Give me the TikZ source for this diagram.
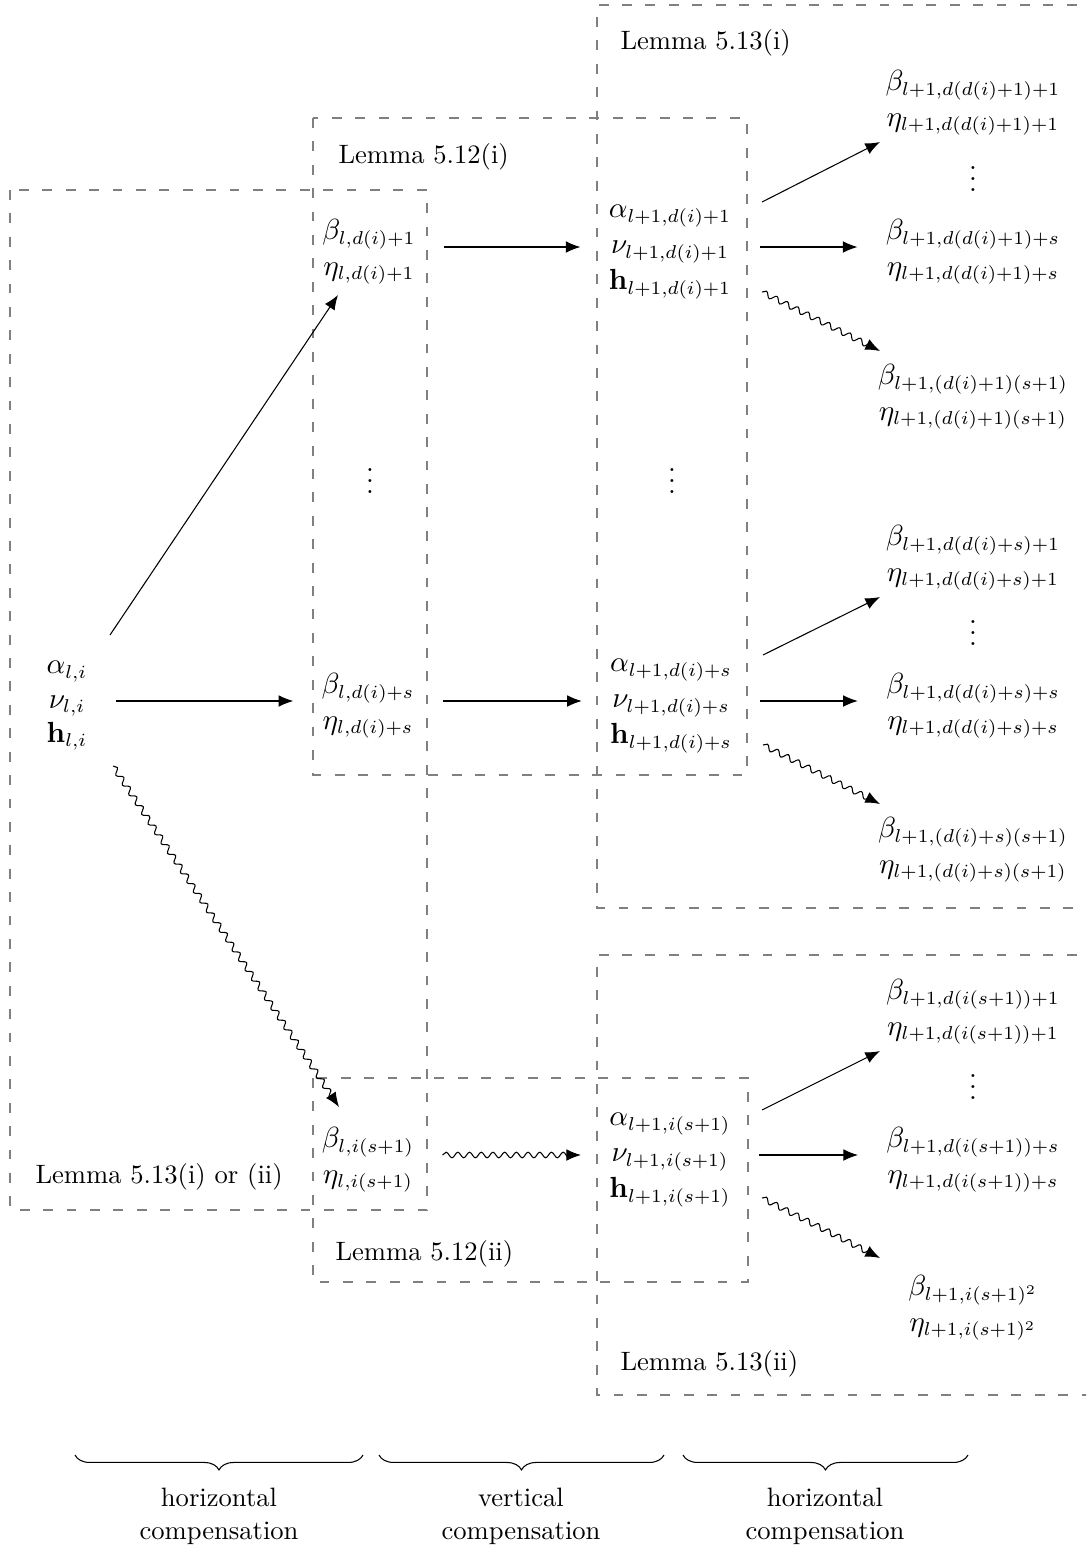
\documentclass[tikz,border=0pt]{standalone}
\usetikzlibrary{arrows.meta,decorations.pathmorphing,decorations.pathreplacing,calc}
\begin{document}
\begin{tikzpicture}[x=0.376pt,y=-0.376pt,
  lbox/.style={draw=black!50, line width=0.4pt, dash pattern=on 3.7pt off 5.1pt},
  stk/.style={align=center, inner xsep=10.5pt, inner ysep=0pt, font=\fontsize{10.55pt}{13.5pt}\selectfont},
  stka/.style={stk, font=\fontsize{10.55pt}{12.9pt}\selectfont},
  vdotsnode/.style={anchor=base, inner sep=0pt, font=\fontsize{10.55pt}{13pt}\selectfont},
  lemlab/.style={anchor=base west, inner sep=0pt},
  arr/.style={-{Latex[length=5.5pt,width=4.4pt]}, line width=0.4pt},
  wav/.style={arr, decorate, decoration={snake, amplitude=1.05pt, segment length=4.4pt, post length=2pt}},
  brc/.style={decorate, decoration={brace, mirror, amplitude=5.6pt}, line width=0.4pt},
  captext/.style={align=center, anchor=north, inner sep=0pt, font=\fontsize{10pt}{12.6pt}\selectfont}
]
\useasboundingbox (0,0) rectangle (1086,1549);
\clip (0,0) rectangle (1086,1549);

% dashed lemma boxes
\draw[lbox] (10,190) rectangle (427,1210);
\draw[lbox] (313,118) rectangle (747,775);
\draw[lbox] (1100,5) -- (597,5) -- (597,908) -- (1100,908);
\draw[lbox] (1100,955) -- (597,955) -- (597,1395) -- (1100,1395);
\draw[lbox] (313,1078) rectangle (748,1282);

% lemma labels
\node[lemlab] (L1) at (35,1183) {Lemma 5.13(i) or (ii)};
\node[lemlab] (L2) at (338,163) {Lemma 5.12(i)};
\node[lemlab] (L3) at (620,49) {Lemma 5.13(i)};
\node[lemlab] (L4) at (335,1260) {Lemma 5.12(ii)};
\node[lemlab] (L5) at (620,1370) {Lemma 5.13(ii)};

% first column
\node[stka] (A) at (67,706) {$\alpha_{l,i}$\\$\nu_{l,i}$\\$\mathbf{h}_{l,i}$};

% second column
\node[stk] (B1) at (369,252) {$\beta_{l,d(i)+1}$\\$\eta_{l,d(i)+1}$};
\node[vdotsnode] (Bd) at (370,493) {$\vdots$};
\node[stk] (B2) at (368,706) {$\beta_{l,d(i)+s}$\\$\eta_{l,d(i)+s}$};
\node[stk] (B3) at (368,1160) {$\beta_{l,i(s+1)}$\\$\eta_{l,i(s+1)}$};

% third column
\node[stk] (C1) at (670,252) {$\alpha_{l+1,d(i)+1}$\\$\nu_{l+1,d(i)+1}$\\$\mathbf{h}_{l+1,d(i)+1}$};
\node[vdotsnode] (Cd) at (672,493) {$\vdots$};
\node[stk] (C2) at (671,706) {$\alpha_{l+1,d(i)+s}$\\$\nu_{l+1,d(i)+s}$\\$\mathbf{h}_{l+1,d(i)+s}$};
\node[stk] (C3) at (670,1160) {$\alpha_{l+1,i(s+1)}$\\$\nu_{l+1,i(s+1)}$\\$\mathbf{h}_{l+1,i(s+1)}$};

% fourth column
\node[stk] (R11) at (973,103) {$\beta_{l+1,d(d(i)+1)+1}$\\$\eta_{l+1,d(d(i)+1)+1}$};
\node[vdotsnode] (R1d) at (973,191) {$\vdots$};
\node[stk] (R12) at (973,252) {$\beta_{l+1,d(d(i)+1)+s}$\\$\eta_{l+1,d(d(i)+1)+s}$};
\node[stk] (R13) at (973,397) {$\beta_{l+1,(d(i)+1)(s+1)}$\\$\eta_{l+1,(d(i)+1)(s+1)}$};

\node[stk] (R21) at (973,558) {$\beta_{l+1,d(d(i)+s)+1}$\\$\eta_{l+1,d(d(i)+s)+1}$};
\node[vdotsnode] (R2d) at (973,645) {$\vdots$};
\node[stk] (R22) at (973,706) {$\beta_{l+1,d(d(i)+s)+s}$\\$\eta_{l+1,d(d(i)+s)+s}$};
\node[stk] (R23) at (973,850) {$\beta_{l+1,(d(i)+s)(s+1)}$\\$\eta_{l+1,(d(i)+s)(s+1)}$};

\node[stk] (R31) at (973,1012) {$\beta_{l+1,d(i(s+1))+1}$\\$\eta_{l+1,d(i(s+1))+1}$};
\node[vdotsnode] (R3d) at (973,1099) {$\vdots$};
\node[stk] (R32) at (973,1160) {$\beta_{l+1,d(i(s+1))+s}$\\$\eta_{l+1,d(i(s+1))+s}$};
\node[stk] (R33) at (973,1308) {$\beta_{l+1,i(s+1)^2}$\\$\eta_{l+1,i(s+1)^2}$};

% arrows from first column
\draw[arr] ($(A)+(43,-71)$) -- ($(B1)+(-31,43)$);
\draw[arr] ($(A.east)+(0,-5)$) -- ($(B2.west)+(0,-5)$);
\draw[wav] ($(A)+(46,60)$) -- ($(B3)+(-29,-53)$);

% second to third column
\draw[arr] ($(B1.east)+(0,-5)$) -- ($(C1.west)+(0,-5)$);
\draw[arr] ($(B2.east)+(0,-5)$) -- ($(C2.west)+(0,-5)$);
\draw[wav] ($(B3.east)+(0,-5)$) -- ($(C3.west)+(0,-5)$);

% third to fourth column
\draw[arr] ($(C1)+(92,-50)$) -- ($(R11)+(-93,39)$);
\draw[arr] ($(C1.east)+(0,-5)$) -- ($(R12.west)+(0,-5)$);
\draw[wav] ($(C1)+(92,40)$) -- ($(R13)+(-93,-46)$);

\draw[arr] ($(C2)+(92,-51)$) -- ($(R21)+(-93,39)$);
\draw[arr] ($(C2.east)+(0,-5)$) -- ($(R22.west)+(0,-5)$);
\draw[wav] ($(C2)+(92,39)$) -- ($(R23)+(-93,-46)$);

\draw[arr] ($(C3)+(92,-50)$) -- ($(R31)+(-93,39)$);
\draw[arr] ($(C3.east)+(0,-5)$) -- ($(R32.west)+(0,-5)$);
\draw[wav] ($(C3)+(92,38)$) -- ($(R33)+(-93,-50)$);

% braces
\coordinate (b1l) at (75,1455);  \coordinate (b1r) at (363,1455);
\coordinate (b2l) at (379,1455); \coordinate (b2r) at (664,1455);
\coordinate (b3l) at (683,1455); \coordinate (b3r) at (968,1455);
\draw[brc] (b1l) -- (b1r);
\draw[brc] (b2l) -- (b2r);
\draw[brc] (b3l) -- (b3r);
\node[captext] (t1) at (219,1487) {horizontal\\compensation};
\node[captext] (t2) at (521,1487) {vertical\\compensation};
\node[captext] (t3) at (825,1487) {horizontal\\compensation};
\end{tikzpicture}
\end{document}
